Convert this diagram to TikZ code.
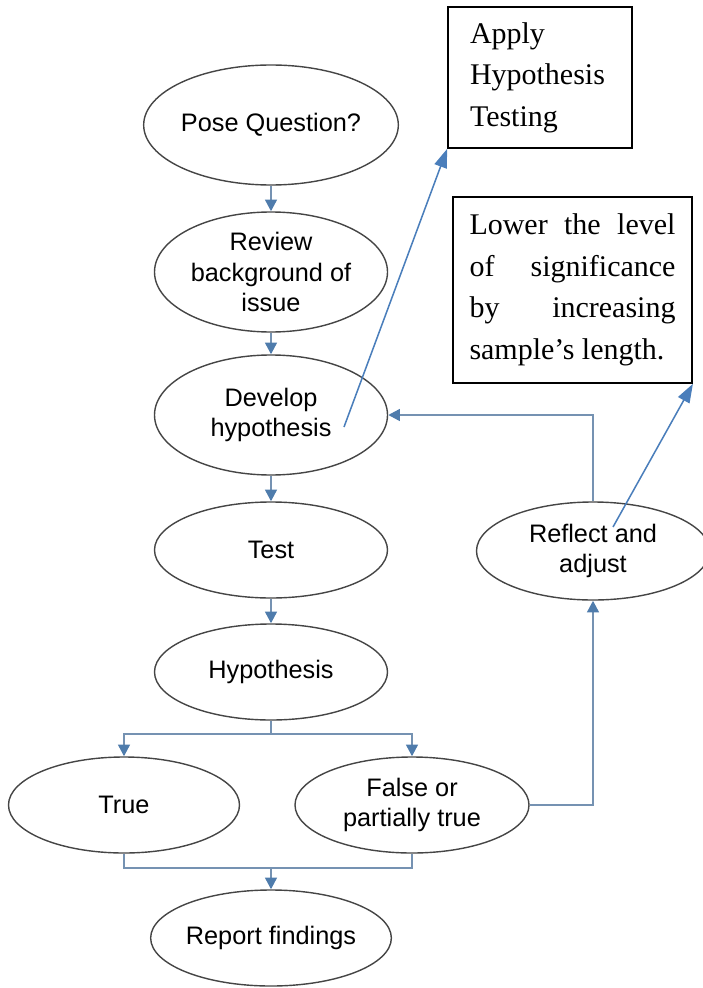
\documentclass[tikz,border=0pt]{standalone}
\usepackage{xcolor}
\usepackage{fontspec}
\usepackage{tikz}
\usetikzlibrary{shapes.geometric,arrows.meta}
\setmainfont{Liberation Serif}
\newfontfamily\flowfont{Liberation Sans}
\definecolor{outlinecolor}{HTML}{454545}
\definecolor{linkcolor}{HTML}{7592B2}
\definecolor{tipcolor}{HTML}{4F7CAC}
\definecolor{notecolor}{HTML}{4A7EBB}
\tikzset{%
  stage/.style={draw=outlinecolor, line width=1.2pt, ellipse, inner sep=0pt, minimum width=69.9mm, align=center, font=\flowfont\fontsize{21.6}{26}\selectfont},
  tallstage/.style={stage, minimum height=36mm},
  flatstage/.style={stage, minimum height=28.8mm},
  notebox/.style={draw, line width=1.5pt, rectangle, inner sep=0pt, font=\fontsize{25.6}{35.5}\selectfont},
  plainlink/.style={draw=linkcolor, line width=2pt},
  link/.style={plainlink, -{Triangle[length=10pt,width=10pt,color=tipcolor]}},
  notearrow/.style={draw=notecolor, line width=1.3pt, -{Triangle[length=16pt,width=11pt]}}%
}
\begin{document}
\begin{tikzpicture}[x=0.3mm, y=-0.3mm]%
\useasboundingbox (0,0) rectangle (703,988);%
% main flow
\node[tallstage] (pose) at (271,125) {Pose Question?};%
\node[tallstage] (review) at (271,272) {Review\\background of\\issue};%
\node[tallstage] (develop) at (271,415) {Develop\\hypothesis};%
\node[flatstage] (test) at (271,550) {Test};%
\node[flatstage] (hyp) at (271,672) {Hypothesis};%
\node[flatstage, minimum width=69.3mm] (true) at (124,805) {True};%
\node[flatstage, minimum width=70.2mm] (false) at (412,805) {False or\\partially true};%
\node[flatstage] (report) at (271,938) {Report findings};%
\node[stage, minimum height=29.4mm] (reflect) at (593,551) {Reflect and\\adjust};%
% notes
\node[notebox, minimum width=55.2mm, minimum height=42.3mm, text width=42mm, align=left] (apply) at (540,77.5) {Apply\\Hypothesis\\Testing};%
\node[notebox, minimum width=71.7mm, minimum height=55.8mm, text width=61.8mm, align=justify] (lower) at (572.5,290) {Lower\hfill the\hfill level\\of\hfill significance\\by\hfill increasing\\sample’s length.};%
% connectors
\coordinate (split) at (271,734);%
\coordinate (merge) at (271,868);%
\draw[link] (pose) -- (review);%
\draw[link] (review) -- (develop);%
\draw[link] (develop) -- (test);%
\draw[link] (test) -- (hyp);%
\draw[plainlink] (hyp.south) -- (split);%
\draw[link] (split) -| (true.north);%
\draw[link] (split) -| (false.north);%
\draw[plainlink] (true.south) |- (merge) -| (false.south);%
\draw[link] (merge) -- (report);%
\draw[link] (false.east) -| (reflect.south);%
\draw[link] (reflect.north) |- (develop.east);%
% note pointers
\coordinate (devmark) at (344,427);%
\coordinate (refmark) at (613,527);%
\draw[notearrow] (devmark) -- (apply.south west);%
\draw[notearrow] (refmark) -- (lower.south east);%
\end{tikzpicture}
\end{document}
